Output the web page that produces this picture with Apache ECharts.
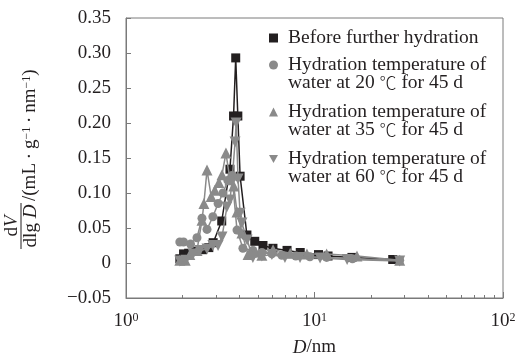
<!DOCTYPE html>
<html>
<head>
<meta charset="utf-8">
<script src="https://cdn.jsdelivr.net/npm/echarts@6/dist/echarts.min.js"></script>
<style>html,body{margin:0;padding:0;background:#fff;}#c{width:517px;height:355px;}</style>
</head>
<body>
<div id="c"></div>
<script>
// ---- data ----
const seriesNames = [
  'Before further hydration',
  'Hydration temperature of\nwater at 20 \u2103 for 45 d',
  'Hydration temperature of\nwater at 35 \u2103 for 45 d',
  'Hydration temperature of\nwater at 60 \u2103 for 45 d'
];
const beforeD = [1.93, 2.02, 2.15, 2.35, 2.55, 2.75, 2.9, 3.22, 3.56, 3.72, 3.82, 3.92, 4.03, 4.38, 4.82, 5.33, 6.02, 7.15, 8.4, 10.5, 11.8, 15.8, 26.0];
const beforeV = [0.006, 0.013, 0.014, 0.017, 0.019, 0.022, 0.029, 0.060, 0.134, 0.210, 0.293, 0.210, 0.124, 0.040, 0.031, 0.025, 0.021, 0.018, 0.015, 0.012, 0.010, 0.008, 0.005];

const t20D = [1.93, 2.02, 2.2, 2.38, 2.53, 2.69, 2.89, 3.08, 3.27, 3.47, 3.65, 3.88, 4.17, 4.71, 5.26, 5.94, 6.71, 7.96, 9.45, 11.6, 15.9, 28.3];
const t20V = [0.030, 0.030, 0.027, 0.036, 0.064, 0.048, 0.066, 0.085, 0.100, 0.118, 0.125, 0.047, 0.021, 0.018, 0.015, 0.013, 0.011, 0.010, 0.009, 0.008, 0.006, 0.004];

const t35D = [1.93, 2.06, 2.18, 2.38, 2.53, 2.59, 2.69, 2.83, 2.96, 3.11, 3.23, 3.39, 3.56, 3.73, 3.88, 4.12, 4.44, 4.83, 5.26, 6.03, 7.43, 9.12, 11.6, 16.8, 28.3];
const t35V = [0.004, 0.004, 0.012, 0.018, 0.061, 0.085, 0.133, 0.095, 0.104, 0.115, 0.126, 0.157, 0.119, 0.110, 0.073, 0.043, 0.012, 0.016, 0.011, 0.019, 0.014, 0.013, 0.013, 0.010, 0.004];

const t60D = [1.93, 2.08, 2.27, 2.47, 2.69, 2.89, 3.08, 3.23, 3.43, 3.56, 3.65, 3.79, 3.84, 3.93, 4.03, 4.12, 4.39, 4.71, 5.26, 5.94, 6.97, 8.38, 10.7, 14.9, 28.3];
const t60V = [0.003, 0.004, 0.013, 0.018, 0.020, 0.025, 0.025, 0.037, 0.080, 0.090, 0.116, 0.173, 0.200, 0.120, 0.071, 0.057, 0.033, 0.008, 0.010, 0.012, 0.008, 0.008, 0.007, 0.005, 0.003];

const xTickExp = {1: '0', 10: '1', 100: '2'};
const xMinorTicks = [2, 3, 4, 5, 6, 7, 8, 9, 20, 30, 40, 50, 60, 70, 80, 90];

// ---- chart ----
const F = '"Liberation Serif", "Times New Roman", serif';
const CJK = '"Noto Sans CJK SC", "Noto Sans CJK JP", sans-serif';
const BLACK = '#231f20';
const GRAY = '#8a8a8a';
const AXIS = '#7a7a7a';
const zip = (a, b) => a.map((v, i) => [v, b[i]]);
const downTri = 'path://M0,0L10,0L5,9Z';

const chart = echarts.init(document.getElementById('c'), null, {renderer: 'canvas'});
const legendBase = {
  orient: 'vertical', left: 269, padding: 0, itemWidth: 9, itemHeight: 9,
  formatter: name => name.replace('\u2103', '{c|\u2103}'),
  textStyle: {fontFamily: F, fontSize: 19.5, color: BLACK, lineHeight: 18,
    rich: {c: {fontFamily: CJK, fontSize: 17, fontWeight: 300, color: BLACK, lineHeight: 18}}}
};
const mkSeries = (name, d, v, color, symbol, size, z) => ({
  name, type: 'line', data: zip(d, v), xAxisIndex: 0, yAxisIndex: 0,
  symbol, symbolSize: size, z,
  itemStyle: {color, opacity: 1},
  lineStyle: {color, width: 1.5},
  animation: false
});

chart.setOption({
  animation: false,
  grid: {left: 126, top: 18, right: 14, bottom: 57, show: true, borderColor: AXIS, borderWidth: 1,
    containLabel: false, outerBoundsMode: 'none'},
  xAxis: [{
    type: 'log', logBase: 10, min: 1, max: 100,
    axisLine: {show: true, onZero: false, lineStyle: {color: AXIS, width: 1}},
    axisTick: {show: true, inside: true, length: 6, lineStyle: {color: AXIS}},
    splitLine: {show: false},
    axisLabel: {
      margin: 14, fontFamily: F, fontSize: 19, color: BLACK,
      formatter: v => '10{s|' + (xTickExp[Math.round(v)] || '') + '}',
      rich: {s: {fontFamily: F, fontSize: 12, color: BLACK, verticalAlign: 'top', lineHeight: 12}}
    },
    name: '{i|D}/nm', nameLocation: 'middle', nameGap: 40,
    nameTextStyle: {fontFamily: F, fontSize: 19, color: BLACK, rich: {i: {fontFamily: F, fontSize: 19, fontStyle: 'italic', color: BLACK}}}
  }, {
    type: 'log', logBase: 10, min: 1, max: 100, position: 'bottom',
    axisLine: {show: false, onZero: false}, axisLabel: {show: false}, splitLine: {show: false},
    axisTick: {show: true, inside: true, length: 3, customValues: xMinorTicks, lineStyle: {color: AXIS}}
  }],
  yAxis: {
    type: 'value', min: -0.05, max: 0.35, interval: 0.05,
    axisLine: {show: true, onZero: false, lineStyle: {color: AXIS, width: 1}},
    axisTick: {show: true, inside: true, length: 5, lineStyle: {color: AXIS}},
    splitLine: {show: false},
    axisLabel: {
      margin: 15, fontFamily: F, fontSize: 19, color: BLACK,
      formatter: v => Math.abs(v) < 1e-9 ? '0' : (v < 0 ? '\u2212' : '') + Math.abs(v).toFixed(2)
    }
  },
  legend: [
    Object.assign({}, legendBase, {top: 28, data: [{name: seriesNames[0], icon: 'rect', textStyle: {padding: [0, 0, 0, 5]}}]}),
    Object.assign({}, legendBase, {top: 38, data: [{name: seriesNames[1], icon: 'circle', textStyle: {padding: [18, 0, 0, 5]}}]}),
    Object.assign({}, legendBase, {top: 85, data: [{name: seriesNames[2], icon: 'triangle', textStyle: {padding: [18, 0, 0, 5]}}]}),
    Object.assign({}, legendBase, {top: 132, data: [{name: seriesNames[3], icon: downTri, textStyle: {padding: [18, 0, 0, 5]}}]})
  ],
  graphic: [{
    type: 'group', x: 21, y: 226, rotation: Math.PI / 2,
    children: [
      {type: 'text', x: 0, y: -9, style: {text: 'd{i|V}', fontFamily: F, fontSize: 19, fill: BLACK, align: 'center', verticalAlign: 'middle',
        rich: {i: {fontFamily: F, fontSize: 19, fontStyle: 'italic', fill: BLACK}}}},
      {type: 'line', shape: {x1: -23, y1: 0, x2: 23, y2: 0}, style: {stroke: BLACK, lineWidth: 1}},
      {type: 'text', x: 0, y: 10, style: {text: 'dlg {i|D}', fontFamily: F, fontSize: 19, fill: BLACK, align: 'center', verticalAlign: 'middle',
        rich: {i: {fontFamily: F, fontSize: 19, fontStyle: 'italic', fill: BLACK}}}},
      {type: 'text', x: 25, y: 9, style: {text: '/(mL\u2009\u00b7\u2009g{s|\u22121}\u2009\u00b7\u2009nm{s|\u22121})', fontFamily: F, fontSize: 19, fill: BLACK, align: 'left', verticalAlign: 'middle',
        rich: {s: {fontFamily: F, fontSize: 12, fill: BLACK, verticalAlign: 'top', lineHeight: 12}}}}
    ]
  }],
  series: [
    mkSeries(seriesNames[0], beforeD, beforeV, BLACK, 'rect', 9, 2),
    mkSeries(seriesNames[1], t20D, t20V, GRAY, 'circle', 9, 3),
    mkSeries(seriesNames[2], t35D, t35V, GRAY, 'triangle', 11, 4),
    mkSeries(seriesNames[3], t60D, t60V, GRAY, downTri, 11, 5)
  ]
});
</script>
</body>
</html>
